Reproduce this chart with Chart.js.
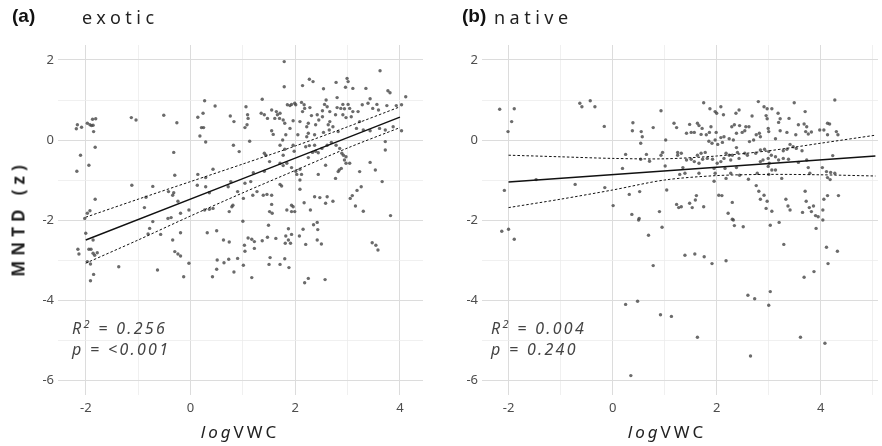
<!DOCTYPE html>
<html>
<head>
<meta charset="utf-8">
<script src="https://cdn.jsdelivr.net/npm/chart.js@4.4.1/dist/chart.umd.min.js"></script>
<style>
  body { margin: 0; background: #fff; }
  #wrap { position: relative; width: 882px; height: 446px; overflow: hidden; font-family: 'Noto Sans', sans-serif; }
  canvas { position: absolute; top: 0; }
  .lbl { position: absolute; white-space: nowrap; color: #222; }
  .tag { font-family: 'Liberation Sans', Arial, sans-serif; font-weight: bold; font-size: 19px; color: #111; }
  .ttl { font-size: 18px; letter-spacing: 4.5px; }
  .stat { font-size: 16px; font-style: italic; letter-spacing: 2.3px; color: #444; }
  .xt { font-size: 17px; letter-spacing: 3px; color: #222; }
  .yt { font-size: 17px; letter-spacing: 5px; font-weight: bold; color: #222; transform: rotate(-90deg); transform-origin: center; }
</style>
</head>
<body>
<div id="wrap">
  <canvas id="chartA" width="441" height="446" style="left:0"></canvas>
  <canvas id="chartB" width="441" height="446" style="left:441px"></canvas>
  <div class="lbl tag" style="left:12px;top:5px">(a)</div>
  <div class="lbl ttl" style="left:82px;top:5px">exotic</div>
  <div class="lbl tag" style="left:462px;top:5px">(b)</div>
  <div class="lbl ttl" style="left:494px;top:5px">native</div>
  <div class="lbl yt" style="left:-42px;top:207px;width:120px;text-align:center">MNTD (z)</div>
  <div class="lbl stat" style="left:72px;top:316px">R<sup style="font-size:11px">2</sup> = 0.256</div>
  <div class="lbl stat" style="left:72px;top:338px">p = &lt;0.001</div>
  <div class="lbl stat" style="left:491px;top:316px">R<sup style="font-size:11px">2</sup> = 0.004</div>
  <div class="lbl stat" style="left:491px;top:338px">p = 0.240</div>
  <div class="lbl xt" style="left:190px;top:420px;width:100px;text-align:center"><i>log</i>VWC</div>
  <div class="lbl xt" style="left:617px;top:420px;width:100px;text-align:center"><i>log</i>VWC</div>
</div>
<script>
// tick labels
const yTicks = [-6, -5, -4, -3, -2, -1, 0, 1, 2];
const yLabels = [-6, -4, -2, 0, 2];
const xTicksA = [-2, -1, 0, 1, 2, 3, 4];
const xTicksB = [-2, -1, 0, 1, 2, 3, 4, 5];
const xLabels = [-2, 0, 2, 4];

// exotic points [logVWC, MNTD z]
const exoticPoints = [
  [-2.18,0.28],[-2.16,0.38],[-2.08,0.32],[-1.97,0.42],[-1.92,0.38],[-1.89,0.36],[-1.86,0.37],[-1.87,0.52],
  [-1.81,0.53],[-1.85,0.21],[-1.82,-0.18],[-2.10,-0.38],[-1.94,-0.63],[-2.17,-0.78],[-1.82,-1.48],[-1.92,-1.77],
  [-1.97,-1.83],[-2.02,-1.96],[-1.13,0.56],[-1.04,0.5],[-0.51,0.62],[-0.26,0.43],[-0.32,-0.31],[-0.30,-0.88],
  [-1.12,-1.13],[-0.72,-1.16],[-0.85,-1.43],[-0.88,-1.69],[-0.42,-1.29],[-0.34,-1.38],[-0.32,-1.32],[-0.24,-1.53],
  [-0.19,-1.83],[-0.03,-1.75],[-0.43,-1.96],[-0.37,-1.94],[0.27,0.98],[0.47,0.85],[0.14,0.57],[0.24,0.67],
  [0.21,0.31],[0.25,0.31],[0.18,0.10],[0.29,-0.05],[0.14,-0.86],[0.29,-0.94],[0.43,-0.73],[0.13,-1.13],
  [0.29,-1.17],[0.36,-1.32],[0.27,-1.75],[0.36,-1.73],[0.43,-1.71],[0.76,0.6],[0.83,0.46],[0.82,-0.13],
  [0.93,-0.29],[0.77,-1.04],[0.72,-1.17],[0.90,-1.29],[0.81,-1.63],[0.79,-1.67],[0.74,-1.79],
  [1.79,1.96],[1.79,1.33],[1.37,1.02],[2.27,1.52],[2.34,1.46],[2.14,1.36],[2.54,1.28],[2.78,1.44],
  [2.99,1.54],[3.01,1.46],[2.96,1.32],[3.10,1.29],[3.35,1.29],[3.62,1.73],[3.77,1.23],[3.81,1.18],
  [4.11,1.08],[2.80,1.06],[2.59,1.00],[2.56,0.89],[2.61,0.83],[2.52,0.73],[2.66,0.71],[2.80,0.81],
  [2.87,0.79],[2.91,0.89],[3.01,0.89],[2.94,0.78],[3.04,0.79],[3.10,0.71],[2.77,0.63],[2.91,0.63],
  [2.97,0.56],[3.07,0.58],[3.20,0.71],[3.28,0.88],[3.39,0.92],[3.43,1.03],[3.48,0.79],[3.56,0.89],
  [3.59,0.75],[3.75,0.86],[3.93,0.86],[4.03,0.88],[3.23,0.46],[3.17,0.29],[3.30,0.25],[3.43,0.23],
  [3.61,0.29],[3.72,0.25],[3.87,0.33],[4.03,0.23],[3.72,-0.04],[3.72,-0.25],[3.43,-0.56],[3.53,-0.75],
  [3.23,-0.79],[3.66,-1.04],[3.26,-1.17],[3.18,-1.26],[3.09,-1.39],[3.05,-1.46],[3.15,-1.65],[3.30,-1.78],
  [3.82,-1.89],[1.06,0.83],[1.09,0.63],[1.10,0.54],[1.08,0.38],[1.04,0.31],[1.13,-0.03],[1.35,0.67],
  [1.41,0.63],[1.47,0.54],[1.55,0.75],[1.64,0.71],[1.61,0.54],[1.66,0.63],[1.71,0.67],[1.70,0.54],
  [1.85,0.88],[1.90,0.86],[1.93,0.89],[1.99,0.92],[2.01,0.88],[2.12,0.94],[2.17,0.88],[2.18,0.79],
  [2.14,0.71],[2.28,0.81],[2.31,0.61],[2.42,0.63],[2.45,0.50],[2.52,0.58],[2.39,0.38],[2.25,0.42],
  [2.22,0.33],[2.09,0.46],[1.96,0.48],[1.80,0.42],[1.77,0.50],[1.90,0.29],[1.82,0.13],[1.76,0.0],
  [1.71,-0.13],[1.55,0.23],[1.58,0.14],[2.05,0.13],[2.22,0.08],[2.25,0.17],[2.37,0.13],[2.54,0.19],
  [2.65,0.25],[2.72,0.33],[2.82,0.21],[2.63,0.38],[2.66,0.46],[1.96,-0.13],[1.98,-0.28],[1.80,-0.23],
  [1.77,-0.38],[2.20,-0.17],[2.27,-0.14],[2.37,-0.13],[2.25,-0.44],[2.33,-0.31],[2.51,-0.21],[2.61,-0.13],
  [2.69,-0.06],[2.78,-0.13],[2.85,-0.21],[2.89,-0.33],[2.92,-0.38],[2.97,-0.42],[2.94,-0.50],[2.97,-0.58],
  [3.04,-0.58],[2.84,-0.75],[2.88,-0.71],[2.82,-0.79],[2.77,-0.96],[2.58,-0.63],[2.44,-0.32],[2.39,-0.28],
  [1.41,-0.33],[1.44,-0.38],[1.51,-0.54],[1.71,-0.58],[1.77,-0.64],[1.84,-0.58],[1.93,-0.69],[2.01,-0.78],
  [2.09,-0.73],[2.12,-0.86],[2.03,-0.86],[2.09,-1.0],[2.44,-0.86],[1.41,-0.78],[1.20,-0.82],[1.04,-1.08],
  [1.15,-1.04],[1.27,-1.29],[1.19,-1.38],[1.39,-1.38],[1.46,-1.36],[1.55,-1.38],[1.71,-1.11],[1.74,-1.15],
  [1.01,-1.46],[2.09,-1.23],[2.37,-1.42],[2.47,-1.44],[2.61,-1.42],[2.58,-1.58],[2.72,-1.53],[2.17,-1.57],
  [1.93,-1.63],[1.96,-1.67],[1.84,-1.75],[1.55,-1.61],[1.51,-1.79],[1.56,-1.83],[1.93,-1.79],[1.99,-1.79],
  [2.29,-1.75],
  [-2.0,-2.33],[-1.86,-2.5],[-2.15,-2.73],[-2.13,-2.85],[-1.94,-2.73],[-1.90,-2.73],[-1.86,-2.83],[-1.83,-2.88],
  [-1.78,-2.82],[-1.97,-3.04],[-1.91,-3.1],[-1.85,-3.36],[-1.91,-3.52],[-1.37,-3.17],[-0.78,-2.21],[-0.81,-2.35],
  [-0.72,-2.04],[-0.57,-2.36],[-0.63,-3.25],[-0.34,-2.5],[-0.19,-2.32],[-0.30,-2.79],[-0.24,-2.85],[-0.19,-2.9],
  [-0.03,-3.08],[-0.13,-3.42],[0.32,-2.32],[0.50,-2.27],[0.63,-2.5],[0.74,-2.55],[0.51,-3.0],[0.64,-3.07],
  [0.73,-2.98],[0.90,-2.96],[0.50,-3.23],[0.42,-3.42],[0.83,-3.3],
  [1.49,-2.13],[1.87,-2.22],[2.15,-2.23],[2.35,-2.12],[2.42,-2.06],[2.43,-2.24],[1.03,-2.63],[1.04,-2.78],
  [1.10,-2.45],[1.17,-2.48],[1.22,-2.54],[1.22,-2.71],[1.37,-2.52],[1.47,-2.43],[1.63,-2.46],[1.82,-2.4],
  [1.81,-2.58],[1.87,-2.5],[1.91,-2.58],[1.93,-2.36],[2.08,-2.4],[2.20,-2.61],[2.42,-2.5],[2.50,-2.6],
  [1.01,-3.13],[1.17,-3.44],[1.52,-2.94],[1.50,-3.11],[1.71,-3.11],[1.80,-2.97],[1.88,-3.19],[2.18,-3.57],
  [2.25,-3.46],[2.57,-3.49],[3.47,-2.57],[3.54,-2.63],[3.58,-2.75],[1.0,-2.03]
];

// native points [logVWC, MNTD z]
const nativePoints = [
  [-2.17,0.77],[-1.89,0.78],[-1.94,0.46],[-2.01,0.21],[-2.08,-1.26],[-1.47,-0.99],[-0.63,0.92],[-0.59,0.83],
  [-0.43,0.98],[-0.34,0.83],[-0.16,0.34],[-0.72,-1.11],[-0.15,-1.19],[0.01,-1.64],[0.93,0.73],[0.39,0.43],
  [0.38,0.23],[0.55,0.21],[0.57,0.08],[0.54,-0.08],[0.78,0.31],[1.02,0.0],[1.18,0.42],[1.23,0.31],
  [0.25,-0.36],[0.65,-0.36],[0.54,-0.48],[0.71,-0.53],[0.93,-0.38],[0.96,-0.31],[1.25,-0.31],[1.25,-0.38],
  [0.19,-0.71],[1.01,-0.65],[0.32,-1.36],[0.52,-1.29],[1.04,-1.25],[0.90,-1.79],[0.37,-1.86],[0.51,-1.96],
  [1.23,-1.61],[1.27,-1.69],
  [1.75,0.93],[1.87,0.78],[1.97,0.71],[2.0,0.67],[2.08,0.83],[2.13,0.63],[2.37,0.67],[2.43,0.75],
  [2.68,0.60],[2.80,0.96],[2.91,0.83],[2.97,0.78],[3.06,0.78],[2.95,0.61],[2.97,0.53],[3.18,0.67],
  [3.22,0.53],[3.19,0.44],[3.39,0.54],[3.49,0.93],[3.70,0.71],[3.68,0.40],[3.73,0.33],[3.71,0.21],
  [3.76,0.15],[3.82,0.20],[3.98,0.25],[4.06,0.25],[4.13,0.42],[4.17,0.40],[4.13,0.13],[4.30,0.21],
  [4.33,0.13],[4.27,1.0],[1.48,0.39],[1.42,0.17],[1.51,0.19],[1.57,0.19],[1.63,0.42],[1.66,0.36],
  [1.72,0.29],[1.70,0.14],[1.80,0.13],[1.86,0.19],[1.89,0.33],[1.85,-0.03],[1.91,-0.08],[1.99,0.19],
  [1.97,0.0],[2.08,0.06],[2.02,-0.11],[2.11,-0.06],[2.14,0.08],[2.29,0.33],[2.34,0.38],[2.44,0.36],
  [2.38,0.17],[2.49,0.19],[2.56,0.33],[2.54,0.23],[2.62,0.33],[2.63,-0.04],[2.71,0.0],[2.76,0.13],
  [2.82,0.17],[2.84,0.08],[2.99,0.29],[3.0,0.21],[3.13,0.03],[3.35,0.19],[3.52,0.13],[3.57,0.38],
  [3.22,0.23],[2.24,0.03],[2.32,0.0],[1.32,-0.33],[1.42,-0.5],[1.51,-0.48],[1.57,-0.54],[1.63,-0.38],
  [1.70,-0.33],[1.78,-0.31],[1.66,-0.58],[1.73,-0.48],[1.82,-0.46],[1.92,-0.48],[2.01,-0.58],[2.08,-0.54],
  [2.14,-0.46],[2.18,-0.33],[2.24,-0.38],[2.27,-0.5],[2.30,-0.38],[2.38,-0.19],[2.40,-0.31],[2.43,-0.46],
  [2.54,-0.33],[2.59,-0.38],[2.75,-0.33],[2.84,-0.25],[2.92,-0.23],[3.0,-0.29],[3.05,-0.38],[3.13,-0.42],
  [3.19,-0.5],[3.28,-0.27],[3.35,-0.23],[3.41,-0.11],[3.47,-0.17],[3.53,-0.21],[3.64,-0.27],[2.89,-0.5],
  [2.99,-0.46],[3.01,-0.58],[2.84,-0.54],[3.28,-0.46],[3.38,-0.48],[3.57,-0.56],[3.73,-0.5],[4.23,-0.39],
  [1.35,-0.69],[1.29,-0.86],[1.39,-0.83],[1.66,-0.83],[1.95,-0.71],[1.97,-0.83],[2.16,-0.71],[2.27,-0.83],
  [2.38,-0.69],[2.44,-0.88],[2.18,-0.96],[1.95,-1.03],[2.61,-0.98],[2.78,-0.83],[2.99,-0.66],[3.06,-0.75],
  [3.13,-0.75],[3.0,-0.86],[3.25,-0.96],[3.76,-0.69],[3.79,-0.83],[4.03,-0.69],[4.11,-0.79],[4.19,-0.81],
  [4.27,-0.83],[4.13,-0.94],[4.18,-0.99],[2.76,-1.14],[2.81,-1.28],[2.91,-1.38],[2.84,-1.48],[2.97,-1.53],
  [2.95,-1.71],[3.06,-1.78],[3.33,-1.48],[3.37,-1.65],[3.41,-1.75],[3.70,-1.28],[3.72,-1.53],[3.78,-1.69],
  [3.86,-1.65],[3.82,-1.79],[3.65,-1.81],[3.90,-1.89],[3.95,-1.92],[4.04,-1.75],[4.06,-1.48],[4.13,-1.39],
  [4.34,-1.39],[2.04,-1.38],[2.10,-1.39],[1.61,-1.39],[1.59,-1.5],[1.48,-1.58],[1.53,-1.69],[1.75,-1.67],
  [2.30,-1.56],[2.22,-1.83],[2.30,-1.98],[1.32,-1.67],
  [-2.13,-2.28],[-2.0,-2.23],[-1.89,-2.48],[0.50,-2.0],[0.69,-2.38],[0.95,-2.18],[0.78,-3.14],[0.25,-4.11],
  [0.48,-4.03],[0.92,-4.37],[1.13,-4.41],[0.35,-5.89],
  [2.32,-2.0],[2.34,-2.14],[2.51,-2.17],[3.03,-2.13],[3.20,-2.06],[4.04,-2.0],[3.91,-2.21],[3.29,-2.61],
  [4.11,-2.68],[4.32,-2.78],[4.14,-3.09],[1.39,-2.88],[1.58,-2.85],[1.76,-2.92],[1.91,-3.09],[2.18,-3.02],
  [2.60,-3.88],[2.73,-3.97],[3.03,-3.79],[3.0,-4.13],[3.68,-3.43],[3.87,-3.29],[1.63,-4.93],[3.61,-4.93],
  [4.08,-5.08],[2.65,-5.4]
];

// fitted lines and confidence bounds
const fitAX = [-2, 4];
const fitAY = [-2.5, 0.57];
const ciAX = [-2, -1, 0, 1, 2, 3, 4];
const ciAUpper = [-1.93, -1.48, -1.04, -0.60, -0.15, 0.33, 0.83];
const ciALower = [-3.08, -2.5, -1.9, -1.32, -0.76, -0.2, 0.31];

const fitBX = [-2, 5.05];
const fitBY = [-1.05, -0.4];
const ciBX = [-2, -1, 0, 1, 2, 3, 4, 5.05];
const ciBUpper = [-0.38, -0.42, -0.46, -0.47, -0.40, -0.27, -0.08, 0.12];
const ciBLower = [-1.69, -1.48, -1.25, -1.0, -0.89, -0.86, -0.87, -0.9];

const zip = (xs, ys) => xs.map((x, i) => ({ x: x, y: ys[i] }));

function makePanel(id, pts, fx, fy, cx, cu, cl, xMin, xMax, xTicks, yWidth, padRight) {
  const lineDs = (data, dash, w) => ({
    type: 'line', data: data, borderColor: '#111', borderWidth: w, borderDash: dash,
    pointRadius: 0, fill: false, tension: 0.3, order: 0
  });
  const gridColor = c => (c.tick && c.tick.value % 2 === 0) ? '#dcdcdc' : '#ececec';
  return new Chart(document.getElementById(id), {
    type: 'scatter',
    data: {
      datasets: [
        { data: pts.map(p => ({ x: p[0], y: p[1] })), pointRadius: 1.7, pointBorderWidth: 0,
          backgroundColor: 'rgba(70,70,70,0.8)', order: 1 },
        lineDs(zip(fx, fy), [], 1.4),
        lineDs(zip(cx, cu), [2.5, 2], 1),
        lineDs(zip(cx, cl), [2.5, 2], 1)
      ]
    },
    options: {
      responsive: false,
      animation: false,
      layout: { padding: { top: 45, right: padRight, left: 0, bottom: 0 } },
      plugins: { legend: { display: false }, tooltip: { enabled: false } },
      scales: {
        x: {
          type: 'linear', min: xMin, max: xMax,
          afterBuildTicks: s => { s.ticks = xTicks.map(v => ({ value: v })); },
          afterFit: s => { s.height = 51; },
          border: { display: false },
          grid: { color: gridColor, lineWidth: c => (c.tick && c.tick.value % 2 === 0) ? 1 : 0.8, drawTicks: false },
          ticks: { padding: 5, color: '#4d4d4d', font: { family: 'Noto Sans', size: 13 },
                   callback: v => xLabels.includes(v) ? String(v) : '' }
        },
        y: {
          min: -6.375, max: 2.375,
          afterBuildTicks: s => { s.ticks = yTicks.map(v => ({ value: v })); },
          afterFit: s => { s.width = yWidth; },
          border: { display: false },
          grid: { color: gridColor, lineWidth: c => (c.tick && c.tick.value % 2 === 0) ? 1 : 0.8, drawTicks: false },
          ticks: { padding: 4, color: '#4d4d4d', font: { family: 'Noto Sans', size: 13 },
                   callback: v => yLabels.includes(v) ? String(v) : '' }
        }
      }
    }
  });
}

makePanel('chartA', exoticPoints, fitAX, fitAY, ciAX, ciAUpper, ciALower, -2.53, 4.44, xTicksA, 58, 18);
makePanel('chartB', nativePoints, fitBX, fitBY, ciBX, ciBUpper, ciBLower, -2.51, 5.1, xTicksB, 41, 0);
</script>
</body>
</html>
